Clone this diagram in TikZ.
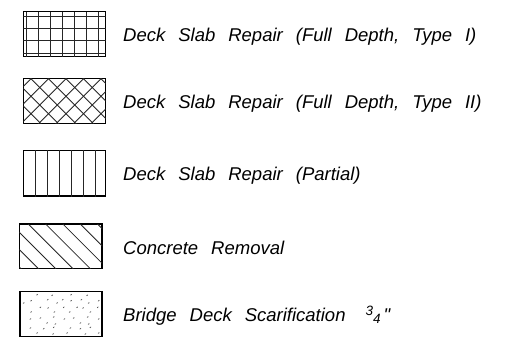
\documentclass[tikz,border=0pt]{standalone}
\usepackage{fontspec}
\newfontfamily\isofont{Liberation Sans}
\newcommand\isolabelfont{\isofont\fontsize{18.5}{20}\selectfont\itshape\spaceskip 13pt\relax}
\begin{document}
\begin{tikzpicture}[x=1pt,y=-1pt,
  legbox/.style={draw=black, line width=1.2pt, inner sep=0pt, outer sep=0pt},
  hatch/.style={line width=0.8pt, black!85},
  speck/.style={line width=0.8pt, black!65, line cap=round},
  lbl/.style={anchor=base west, inner sep=0pt, font=\isolabelfont}]
\useasboundingbox (0,0) rectangle (506,338);
% boxes
\node[legbox, minimum width=82.4pt, minimum height=45pt] (b1) at (64.5,34.2) {};
\node[legbox, minimum width=82.4pt, minimum height=45pt] (b2) at (64.5,101.2) {};
\node[legbox, minimum width=82.4pt, minimum height=45.3pt] (b3) at (64.5,173.35) {};
\node[legbox, minimum width=82.7pt, minimum height=44.7pt] (b4) at (60.65,246.35) {};
\node[legbox, minimum width=82pt, minimum height=45pt] (b5) at (61,314.2) {};
% box 1: grid
\begin{scope}
  \clip (b1.south west) rectangle (b1.north east);
  \foreach \x in {26,38,50,62,74.3,86.3,98.3} \draw[hatch] (\x,11.7) -- (\x,56.7);
  \foreach \y in {16,28.5,40.7,53} \draw[hatch] (23.3,\y) -- (105.7,\y);
\end{scope}
% box 2: cross hatch
\begin{scope}
  \clip (b2.south west) rectangle (b2.north east);
  \foreach \k in {-4,...,8} {
    \pgfmathsetmacro{\c}{31+17.5*\k}
    \draw[hatch] (\c-10,68.7) -- (\c+60,138.7);
    \draw[hatch] (\c+10,68.7) -- (\c-60,138.7);
  }
\end{scope}
% box 3: vertical lines
\begin{scope}
  \clip (b3.south west) rectangle (b3.north east);
  \foreach \i in {1,...,6} {
    \pgfmathsetmacro{\x}{23.5+11.95*\i}
    \draw[hatch] (\x,150) -- (\x,197);
  }
\end{scope}
% box 4: diagonal lines
\begin{scope}
  \clip (b4.south west) rectangle (b4.north east);
  \foreach \k in {-4,...,5} {
    \pgfmathsetmacro{\c}{28.3+17.3*\k}
    \draw[hatch] (\c-10,214) -- (\c+60,284);
  }
\end{scope}
% box 5: specks
\foreach \p in {(36.7,295),(51.7,295.7),(70.7,295),(86.7,295.7),
  (23.3,303.3),(30.7,301),(47.3,300),(56.7,303.3),(62.3,300),(70.7,301),(81,300),(88.3,303.3),(98.3,301),
  (40,307.7),(47.7,308.3),(63.3,307.7),(76.7,307.7),(82.7,308.3),(97.3,307.7),
  (30.7,312.3),(54,312.3),(69.3,312.3),(90,312.3),
  (30,319.3),(40,318.3),(53.3,317.3),(64,319.3),(73.3,318.3),(87.3,317.3),(98.3,319.3),
  (46.7,323.3),(55,324.3),(80,323.3),(88.3,324.3),
  (30,328.3),(43.3,329),(53.3,327.7),(70,328.3),(80,329),(90,327.7),
  (36.7,333.3),(52.7,334.3),(66.7,333.3),(85,334.3),(98.3,333.3)}
  \draw[speck] \p -- ++(0.9,-0.7);
% labels
\node[lbl] (t1) at (123,41) {Deck Slab Repair (Full Depth, Type I)};
\node[lbl] (t2) at (123,108) {Deck Slab Repair (Full Depth, Type II)};
\node[lbl] (t3) at (123,180) {Deck Slab Repair (Partial)};
\node[lbl] (t4) at (123,254) {Concrete Removal};
\node[lbl] (t5) at (123,321) {Bridge Deck Scarification\hspace{20pt}{\fontsize{13.5}{12}\selectfont\raisebox{6pt}{3}\raisebox{-2.5pt}{4}}\hspace{3pt}"};
\end{tikzpicture}
\end{document}
